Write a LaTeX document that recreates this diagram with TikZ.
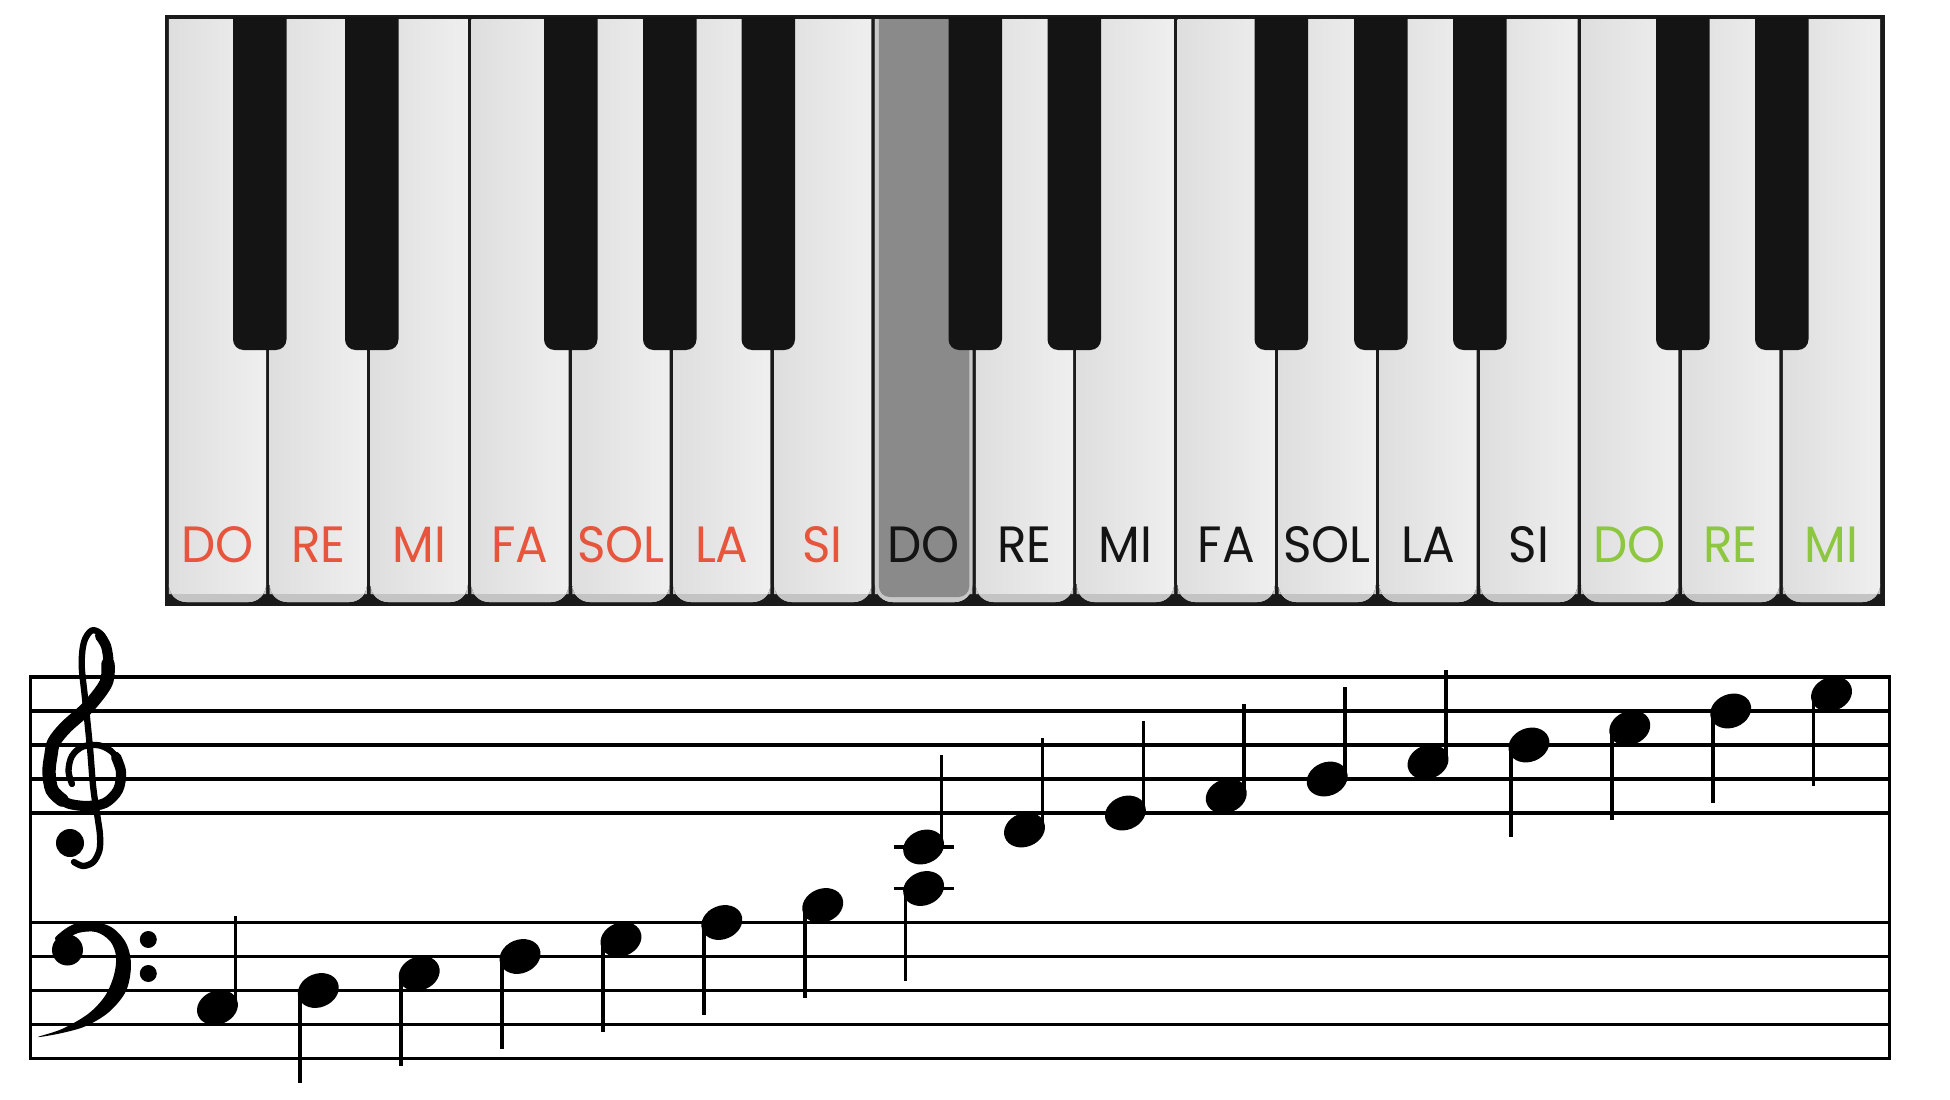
\documentclass[tikz,border=0pt]{standalone}
\usepackage{fontspec}
\newfontfamily\keyfont{Poppins}[FakeStretch=0.95]
\usetikzlibrary{shapes.geometric}
\definecolor{keyred}{HTML}{E6553C}
\definecolor{keygreen}{HTML}{8DC63F}
\definecolor{keyblack}{HTML}{141414}
\definecolor{framecol}{HTML}{1A1A1A}
\definecolor{wkleft}{HTML}{DEDEDE}
\definecolor{wkright}{HTML}{EFEFEF}
\definecolor{bevelcol}{HTML}{C4C4C4}
\definecolor{greykey}{HTML}{8A8A8A}
\definecolor{greyrim}{HTML}{C8C8C8}
\begin{document}
\begin{tikzpicture}[x=0.01cm, y=-0.01cm,
  whitekey/.style={left color=wkleft, right color=wkright},
  keybevel/.style={fill=bevelcol},
  blackkey/.style={fill=keyblack},
  keylabel/.style={anchor=base, inner sep=0pt, font=\keyfont\fontsize{14.5}{16}\selectfont},
  staffline/.style={line width=1pt, draw=black},
  notehead/.style={ellipse, fill=black, draw=none, inner sep=0pt, minimum width=0.42cm, minimum height=0.335cm, rotate=22},
  stemline/.style={line width=1.05pt},
  ledgerline/.style={line width=1.1pt},
  clefline/.style={line width=1.8pt, line cap=round, line join=round},
  clefmid/.style={line width=2.9pt, line cap=round, line join=round},
  clefthick/.style={line width=3.8pt, line cap=round, line join=round}
]
\useasboundingbox (0,0) rectangle (1950,1100);
\fill[white] (0,0) rectangle (1950,1100);

% ---------- keyboard ----------
\fill[framecol] (164.5,15) rectangle (1884.5,606);
\foreach \i in {0,...,16} {
  \pgfmathsetmacro\xl{167+\i*100.882+1.8}
  \pgfmathsetmacro\xr{167+(\i+1)*100.882-1.8}
  \shade[whitekey] (\xl,19) [rounded corners=5] -- (\xl,602) -- (\xr,602) [sharp corners] -- (\xr,19) -- cycle;
  \fill[keybevel] (\xl,594) [rounded corners=5] -- (\xl,602) -- (\xr,602) [sharp corners] -- (\xr,594) -- cycle;
}
% highlighted key (second DO)
\pgfmathsetmacro\gl{167+7*100.882+1.8}
\pgfmathsetmacro\gr{167+8*100.882-1.8}
\fill[greyrim] (\gl,19) [rounded corners=5] -- (\gl,602) -- (\gr,602) [sharp corners] -- (\gr,19) -- cycle;
\fill[greykey] (\gl+4,19) [rounded corners=3] -- (\gl+4,597) -- (\gr-3,597) [sharp corners] -- (\gr-3,19) -- cycle;

% black keys
\foreach \bx in {233,345,544,643,741.5,948.5,1047.5,1254.5,1354,1453,1656,1755}
  \fill[blackkey] (\bx,17) [rounded corners=3] -- (\bx,350) -- (\bx+53.5,350) [sharp corners] -- (\bx+53.5,17) -- cycle;

% labels
\foreach \i/\t/\c in {0/DO/keyred,1/RE/keyred,2/MI/keyred,3/FA/keyred,4/SOL/keyred,5/LA/keyred,6/SI/keyred,
  7/DO/keyblack,8/RE/keyblack,9/MI/keyblack,10/FA/keyblack,11/SOL/keyblack,12/LA/keyblack,13/SI/keyblack,
  14/DO/keygreen,15/RE/keygreen,16/MI/keygreen}
  \node[keylabel, text=\c] (lab\i) at ({167+(\i+0.5)*100.882},562) {\t};

% ---------- staff ----------
\foreach \y in {711,745,779,813,922.5,956.5,990.5,1024.5}
  \draw[staffline] (30.7,\y) -- (1889.3,\y);
\draw[staffline] (30.7,677) rectangle (1889.3,1058.5);

% ---------- notes ----------
\foreach \i/\y/\d [count=\n] in {0/1007.5/1, 1/990.5/-1, 2/973.5/-1, 3/956.5/-1, 4/939.5/-1, 5/922.5/-1, 6/905.5/-1, 7/888.5/-1,
  7/847/1, 8/830/1, 9/813/1, 10/796/1, 11/779/1, 12/762/1, 13/745/-1, 14/728/-1, 15/711/-1, 16/694/-1} {
  \node[notehead] (note\n) at ({167+(\i+0.5)*100.882},\y) {};
  \draw[stemline] (note\n.center) ++({18*\d},{-3*\d}) -- ++(0,{-89*\d});
}
\draw[ledgerline] (note8.center) ++(-30,0) -- ++(60,0);
\draw[ledgerline] (note9.center) ++(-30,0) -- ++(60,0);

% ---------- treble clef ----------
\draw[clefline] plot[smooth, tension=0.55] coordinates {
  (74,862) (83,866) (93.3,862) (99.5,850) (100,835) (98.3,822) (93.3,788) (90,748) (85,698)
  (81.7,665) (84,642) (91.7,630.5) (101,634) (107,646) (108.5,662) (106,683) (88,707) (66,727) (54,742)
  (51,755) (49,772) (52,790) (65,802) (86.7,806) (105,803) (118,790) (121,772) (114,754)
  (100,745.5) (83,746.5) (72,756) (68.5,771) (72,784)};
\draw[clefthick] plot[smooth, tension=0.55] coordinates {
  (108,664) (106,683) (88,707) (66,727) (54,742) (51,755) (49,772) (52,790) (62,800)};
\draw[clefmid] plot[smooth, tension=0.55] coordinates {
  (62,800) (70,804) (86.7,806) (105,803) (118,790) (121,772) (116,757)};
\draw[clefmid] plot[smooth, tension=0.55] coordinates {
  (100,636) (106,646) (108.5,662) (107,676)};
\fill (70,843) circle[radius=14];

% ---------- bass clef ----------
\fill plot[smooth cycle, tension=0.55] coordinates {
  (55,938) (70,926) (88,921) (111,927) (126,943) (131,965) (126,991) (109,1012) (86,1026) (62,1033) (38,1037)
  (62,1029) (88,1014) (105,996) (114,975) (116,956) (110,941) (96,932) (78,933) (63,941)};
\fill (67.5,950) circle[radius=15.5];
\fill (148.3,939.5) circle[radius=8.5];
\fill (148.3,973.5) circle[radius=8.5];
\end{tikzpicture}
\end{document}
